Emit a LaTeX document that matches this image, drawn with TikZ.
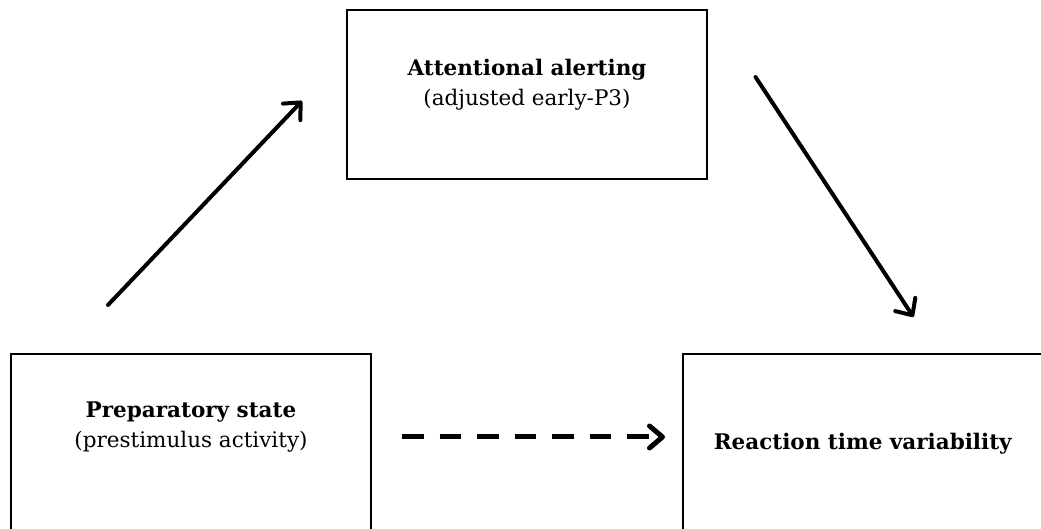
\documentclass[tikz,border=0pt]{standalone}
\usepackage{fontspec}
\setmainfont{DejaVu Serif}
\usetikzlibrary{arrows.meta, positioning}

\begin{document}
\begin{tikzpicture}[
  x=1pt, y=1pt,
  every node/.style={font=\fontsize{21.5}{30}\selectfont},
  box/.style={rectangle, draw, line width=1.5pt, minimum width=360pt, inner sep=0pt},
  txt/.style={align=center, inner sep=0pt},
  link/.style={line width=4pt, line cap=round,
               -{Straight Barb[length=13pt, width=24pt, round]}},
  weak/.style={line width=5pt, dash pattern=on 21.5pt off 16pt,
               -{Straight Barb[length=13pt, width=22pt, round]}}
]
\useasboundingbox (0,0) rectangle (1041,529);
\clip (0,0) rectangle (1041,529);

% Boxes
\node[box, minimum height=169pt] (alert) at (527,434.5) {};
\node[box, minimum height=200pt] (prep) at (191,75) {};
\node[box, minimum height=200pt] (rt) at (863,75) {};

% Texts
\node[txt, below=50pt of alert.north] (alerttxt)
  {\textbf{Attentional alerting}\\(adjusted early-P3)};
\node[txt, below=48pt of prep.north] (preptxt)
  {\textbf{Preparatory state}\\(prestimulus activity)};
\node[txt, below=80pt of rt.north] (rttxt)
  {\textbf{Reaction time variability}};

% Arrows
\coordinate (a1s) at (108,224);
\coordinate (a1e) at (302,428);
\coordinate (a2s) at (755.5,452);
\coordinate (a2e) at (913.5,212);
\coordinate (a3s) at (402,92);
\coordinate (a3e) at (665,92);
\draw[link] (a1s) -- (a1e);
\draw[link] (a2s) -- (a2e);
\draw[weak] (a3s) -- (a3e);

\end{tikzpicture}
\end{document}
